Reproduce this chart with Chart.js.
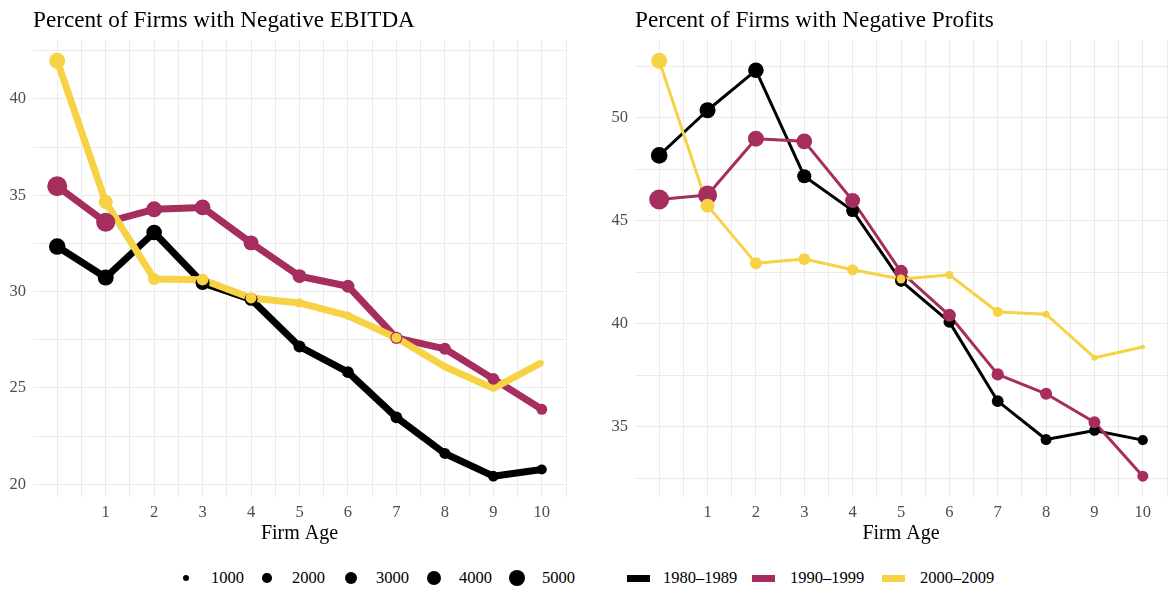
<!DOCTYPE html>
<html>
<head>
<meta charset="utf-8">
<script src="https://cdn.jsdelivr.net/npm/chart.js@4.4.0/dist/chart.umd.min.js"></script>
<style>
  body { margin: 0; background: #fff; }
  #wrap { position: relative; width: 1172px; height: 593px; font-family: 'Liberation Serif', 'DejaVu Serif', serif; }
  canvas { position: absolute; top: 0; }
  .title { position: absolute; top: 8px; font-size: 23.2px; line-height: 23px; color: #000; white-space: nowrap; }
  .lg { position: absolute; font-size: 16.5px; line-height: 20px; top: 568px; color: #000; white-space: nowrap; }
  .dot { position: absolute; border-radius: 50%; background: #000; }
  .key { position: absolute; width: 23px; height: 7px; top: 575px; }
</style>
</head>
<body>
<div id="wrap">
  <canvas id="left" width="586" height="550" style="left:0px"></canvas>
  <canvas id="right" width="570" height="550" style="left:602px"></canvas>
  <div class="title" style="left:33px">Percent of Firms with Negative EBITDA</div>
  <div class="title" style="left:635px">Percent of Firms with Negative Profits</div>
  <div id="legend"></div>
</div>
<script>
// firm age on the x axis
const ages = [0, 1, 2, 3, 4, 5, 6, 7, 8, 9, 10];
const cohorts = ['1980–1989', '1990–1999', '2000–2009'];
const colors = ['#000000', '#a62e5e', '#f6d244'];

// percent with negative EBITDA
const ebitda80 = [32.34, 30.73, 33.07, 30.45, 29.6, 27.15, 25.82, 23.47, 21.6, 20.42, 20.77];
const ebitda90 = [35.47, 33.6, 34.27, 34.37, 32.53, 30.8, 30.28, 27.6, 27.03, 25.47, 23.89];
const ebitda00 = [41.98, 34.65, 30.66, 30.62, 29.67, 29.41, 28.75, 27.6, 26.1, 24.98, 26.32];

// percent with negative profits
const profit80 = [48.17, 50.36, 52.3, 47.16, 45.49, 42.08, 40.09, 36.24, 34.38, 34.82, 34.35];
const profit90 = [46.03, 46.25, 48.98, 48.85, 45.98, 42.52, 40.41, 37.54, 36.6, 35.22, 32.6];
const profit00 = [52.76, 45.73, 42.93, 43.14, 42.62, 42.17, 42.37, 40.57, 40.46, 38.35, 38.87];

// number of firms (point size)
const firms80 = [5000, 4700, 4500, 3800, 3300, 2900, 2800, 2800, 2500, 2400, 2150];
const firms90 = [7000, 6400, 4700, 4600, 4200, 3700, 3300, 3000, 2900, 2850, 2500];
const firms00 = [4700, 3750, 2900, 2800, 2500, 1800, 1500, 2100, 1230, 980, 650];

const sizeBreaks = [1000, 2000, 3000, 4000, 5000];
const xTicks = [0, 0.5, 1, 1.5, 2, 2.5, 3, 3.5, 4, 4.5, 5, 5.5, 6, 6.5, 7, 7.5, 8, 8.5, 9, 9.5, 10, 10.5];
const yTicksLeft = [20, 22.5, 25, 27.5, 30, 32.5, 35, 37.5, 40, 42.5];
const yTicksRight = [32.5, 35, 37.5, 40, 42.5, 45, 47.5, 50, 52.5];

Chart.defaults.font.family = "'Liberation Serif', 'DejaVu Serif', serif";

function radius(n) {
    return 0.134 * Math.sqrt(n) - 1.2;
}

function pts(values) {
    return ages.map((a, i) => ({ x: a, y: values[i] }));
}

function makePanel(id, series, firms, lineWidth, yMin, yMax, yTicks, padRight) {
    let datasets = [];
    let i;

    // lines first, points above them
    for (i = 0; i < series.length; i += 1) {
        datasets.push({
            label: cohorts[i],
            data: pts(series[i]),
            borderColor: colors[i],
            borderWidth: lineWidth,
            borderJoinStyle: 'round',
            pointRadius: 0,
            order: 6 - i
        });
    }
    for (i = 0; i < series.length; i += 1) {
        let f = firms[i];
        datasets.push({
            label: cohorts[i] + ' firms',
            data: pts(series[i]),
            showLine: false,
            backgroundColor: colors[i],
            pointBackgroundColor: colors[i],
            pointBorderWidth: 0,
            pointRadius: ctx => radius(f[ctx.dataIndex]),
            order: 3 - i
        });
    }

    return new Chart(document.getElementById(id), {
        type: 'line',
        data: { datasets: datasets },
        options: {
            responsive: false,
            animation: false,
            layout: { autoPadding: false, padding: { top: 40, right: padRight, left: 0, bottom: 0 } },
            plugins: { legend: { display: false }, tooltip: { enabled: false } },
            scales: {
                x: {
                    type: 'linear',
                    min: -0.5,
                    max: 10.5,
                    afterBuildTicks: s => { s.ticks = xTicks.map(v => ({ value: v })); },
                    afterFit: s => {
                        s.height = 53;
                        s.paddingLeft = 0;
                        s.paddingRight = 0;
                    },
                    grid: { color: '#ebebeb', lineWidth: 1, drawTicks: false },
                    border: { display: false },
                    ticks: {
                        autoSkip: false,
                        maxRotation: 0,
                        padding: 6,
                        color: '#4d4d4d',
                        font: { size: 16.5 },
                        callback: v => (Number.isInteger(v) && v >= 1 ? String(v) : '')
                    },
                    title: { display: true, text: 'Firm Age', color: '#000', font: { size: 20 }, padding: { top: 0, bottom: 4 } }
                },
                y: {
                    min: yMin,
                    max: yMax,
                    afterBuildTicks: s => { s.ticks = yTicks.map(v => ({ value: v })); },
                    afterFit: s => {
                        s.width = 33;
                        s.paddingTop = 0;
                        s.paddingBottom = 0;
                    },
                    grid: { color: '#ebebeb', lineWidth: 1, drawTicks: false },
                    border: { display: false },
                    ticks: {
                        autoSkip: false,
                        padding: 7,
                        color: '#4d4d4d',
                        font: { size: 16.5 },
                        callback: v => (v % 5 === 0 ? String(v) : '')
                    }
                }
            }
        }
    });
}

makePanel('left', [ebitda80, ebitda90, ebitda00], [firms80, firms90, firms00], 7, 19.34, 43.06, yTicksLeft, 20);
makePanel('right', [profit80, profit90, profit00], [firms80, firms90, firms00], 3, 31.59, 53.77, yTicksRight, 5);

// legend below the panels
const legend = document.getElementById('legend');
const dotX = [186, 267, 351, 434, 517];
const keyX = [627, 752, 882];
let html = '';
sizeBreaks.forEach((b, i) => {
    let r = radius(b);
    html += '<div class="dot" style="left:' + (dotX[i] - r) + 'px;top:' + (578 - r) + 'px;width:' + (2 * r) + 'px;height:' + (2 * r) + 'px"></div>';
    html += '<div class="lg" style="left:' + (dotX[i] + 25) + 'px">' + b + '</div>';
});
cohorts.forEach((c, i) => {
    html += '<div class="key" style="left:' + keyX[i] + 'px;background:' + colors[i] + '"></div>';
    html += '<div class="dot" style="left:' + (keyX[i] + 9) + 'px;top:575px;width:6px;height:7px;background:' + colors[i] + '"></div>';
    html += '<div class="lg" style="left:' + (keyX[i] + 36 + (i > 0 ? 2 : 0)) + 'px">' + c + '</div>';
});
legend.innerHTML = html;
</script>
</body>
</html>
